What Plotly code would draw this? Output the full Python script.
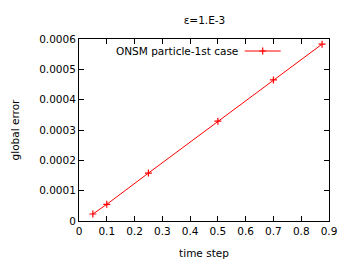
import plotly.graph_objects as go

time_step = [0.05, 0.1, 0.25, 0.5, 0.7, 0.875]
global_error = [2.3e-5, 5.5e-5, 1.58e-4, 3.29e-4, 4.65e-4, 5.83e-4]
series_name = "ONSM particle-1st case"
title_text = "ε=1.E-3"

FONT = "DejaVu Sans"
fig = go.Figure()
fig.add_trace(go.Scatter(
    x=time_step, y=global_error, mode="lines+markers", name=" ",
    line=dict(color="#ff0000", width=1),
    marker=dict(symbol="cross-thin", size=5, line=dict(color="#ff0000", width=1.2)),
    showlegend=True,
))

axis_common = dict(
    showgrid=False, zeroline=False, showline=True, linecolor="black", linewidth=1,
    mirror="ticks", ticks="inside", ticklen=5, tickcolor="black",
    tickfont=dict(family=FONT, size=10.5, color="black"),
    tickformat="~g", automargin=False,
)
fig.update_layout(
    width=350, height=262,
    margin=dict(l=79, r=21, t=39, b=41),
    paper_bgcolor="white", plot_bgcolor="white",
    title=dict(text=title_text, x=(204.5) / 350, xanchor="center", y=1 - 20 / 262, yanchor="middle",
               font=dict(family=FONT, size=10.5, color="black")),
    xaxis=dict(range=[0, 0.9], dtick=0.1, tick0=0,
               title=dict(text="time step", font=dict(family=FONT, size=10.5, color="black"), standoff=14),
               **axis_common),
    yaxis=dict(range=[0, 0.0006], dtick=0.0001, tick0=0,
               title=dict(text="global error", font=dict(family=FONT, size=10.5, color="black"), standoff=17),
               **axis_common),
    legend=dict(x=(240 - 79.3) / 250, y=(221 - 51) / 182, xanchor="left", yanchor="middle",
                bgcolor="rgba(0,0,0,0)", font=dict(family=FONT, size=10.5), itemwidth=36),
    annotations=[dict(text=series_name, xref="paper", yref="paper",
                      x=(240.5 - 79.3) / 250, y=(221 - 51) / 182, xanchor="right", yanchor="middle",
                      showarrow=False, font=dict(family=FONT, size=10.5, color="black"))],
)
fig.write_html("out.html", config={"displayModeBar": False},
               post_script="document.body.style.margin='0';document.body.style.overflow='hidden';")
